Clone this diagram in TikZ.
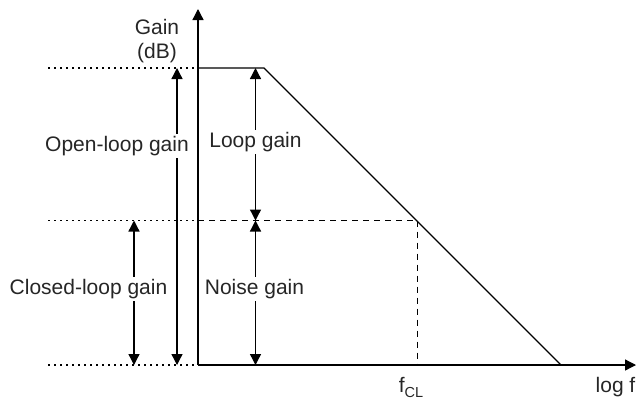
\documentclass[tikz,border=0pt]{standalone}
\usepackage{fontspec}
\setmainfont{Liberation Sans}
\usetikzlibrary{arrows.meta}
\begin{document}
\begin{tikzpicture}[x=1pt,y=-1pt,
  line width=1.3pt,
  tip/.style={-{Triangle[width=11pt,length=11pt]}},
  dbl/.style={{Triangle[width=11pt,length=11pt]}-{Triangle[width=11pt,length=11pt]}},
  dots/.style={line width=1.5pt,dash pattern=on 1.6pt off 4.4pt},
  dsh/.style={line width=1.1pt,dash pattern=on 6pt off 5pt},
  lbl/.style={font=\fontsize{21}{25}\selectfont, text=black!85, inner sep=2pt, fill=white}]
\useasboundingbox (0,0) rectangle (636,400);
% key coordinates
\coordinate (O) at (198,365);
\coordinate (ytop) at (198,9);
\coordinate (xend) at (636,365);
\coordinate (T) at (198,68);
\coordinate (K) at (264,68);
\coordinate (Z) at (561,365);
\coordinate (M) at (198,220.5);
\coordinate (C) at (417.5,220.5);
\coordinate (Cb) at (417.5,365);
\coordinate (Tl) at (48,68);
\coordinate (Ml) at (48,220.5);
\coordinate (Bl) at (48,365);
% dotted level lines
\draw[dots] (Tl) -- (T);
\draw[dots] (Ml) -- (M);
\draw[dots] (Bl) -- (O);
% dashed
\draw[dsh] (M) -- (C);
\draw[dsh] (C) -- (Cb);
% response
\draw[line width=1.2pt] (T) -- (K) -- (Z);
% axes
\draw[tip] (O) -- (ytop);
\draw[tip] (O) -- (xend);
% dimension arrows
\coordinate (olT) at (177,68);
\coordinate (olB) at (177,365);
\coordinate (clT) at (134,220.5);
\coordinate (clB) at (134,365);
\coordinate (lgT) at (255.5,68);
\coordinate (lgB) at (255.5,220.5);
\coordinate (ngT) at (255.5,220.5);
\coordinate (ngB) at (255.5,365);
\draw[dbl] (olB) -- (olT);
\draw[dbl] (clB) -- (clT);
\draw[dbl] (lgB) -- (lgT);
\draw[dbl] (ngB) -- (ngT);
% labels
\node[lbl] (ol) at (117,146) {Open-loop gain};
\node[lbl] (cl) at (88.5,289) {Closed-loop gain};
\node[lbl] (lg) at (255.5,142) {Loop gain};
\node[lbl] (ng) at (254.5,289) {Noise gain};
\node[lbl,fill=none,align=center,inner sep=0pt] (gain) at (157,41) {Gain\\[-1pt](dB)};
\node[lbl,fill=none,anchor=base,inner sep=0pt] (fcl) at (411,392) {f\raisebox{-5pt}{\fontsize{14.5}{16}\selectfont CL}};
\node[lbl,fill=none,anchor=base east,inner sep=0pt] (logf) at (636,392) {log f};
\end{tikzpicture}
\end{document}
